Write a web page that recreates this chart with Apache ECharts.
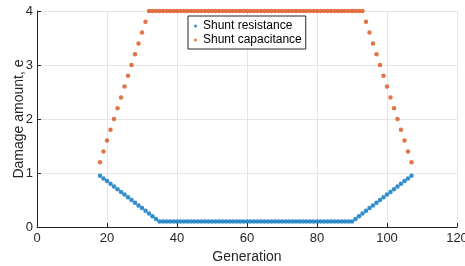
<!DOCTYPE html>
<html>
<head>
<meta charset="utf-8">
<script src="https://cdn.jsdelivr.net/npm/echarts@6/dist/echarts.min.js"></script>
<style>
  html, body { margin: 0; padding: 0; background: #fff; }
  #chart { width: 465px; height: 266px; }
</style>
</head>
<body>
<div id="chart"></div>
<script>
// generation numbers (x)
const generations = [
  18, 19, 20, 21, 22, 23, 24, 25, 26, 27, 28, 29, 30, 31, 32, 33, 34, 35, 36, 37,
  38, 39, 40, 41, 42, 43, 44, 45, 46, 47, 48, 49, 50, 51, 52, 53, 54, 55, 56, 57,
  58, 59, 60, 61, 62, 63, 64, 65, 66, 67, 68, 69, 70, 71, 72, 73, 74, 75, 76, 77,
  78, 79, 80, 81, 82, 83, 84, 85, 86, 87, 88, 89, 90, 91, 92, 93, 94, 95, 96, 97,
  98, 99, 100, 101, 102, 103, 104, 105, 106, 107
]
// damage amount for shunt resistance
const resistance = [
  0.95, 0.90, 0.85, 0.80, 0.75, 0.70, 0.65, 0.60, 0.55, 0.50, 0.45, 0.40, 0.35, 0.30, 0.25, 0.20, 0.15, 0.10, 0.10, 0.10,
  0.10, 0.10, 0.10, 0.10, 0.10, 0.10, 0.10, 0.10, 0.10, 0.10, 0.10, 0.10, 0.10, 0.10, 0.10, 0.10, 0.10, 0.10, 0.10, 0.10,
  0.10, 0.10, 0.10, 0.10, 0.10, 0.10, 0.10, 0.10, 0.10, 0.10, 0.10, 0.10, 0.10, 0.10, 0.10, 0.10, 0.10, 0.10, 0.10, 0.10,
  0.10, 0.10, 0.10, 0.10, 0.10, 0.10, 0.10, 0.10, 0.10, 0.10, 0.10, 0.10, 0.10, 0.15, 0.20, 0.25, 0.30, 0.35, 0.40, 0.45,
  0.50, 0.55, 0.60, 0.65, 0.70, 0.75, 0.80, 0.85, 0.90, 0.95
]
// damage amount for shunt capacitance
const capacitance = [
  1.2, 1.4, 1.6, 1.8, 2.0, 2.2, 2.4, 2.6, 2.8, 3.0, 3.2, 3.4, 3.6, 3.8, 4.0, 4.0, 4.0, 4.0, 4.0, 4.0,
  4.0, 4.0, 4.0, 4.0, 4.0, 4.0, 4.0, 4.0, 4.0, 4.0, 4.0, 4.0, 4.0, 4.0, 4.0, 4.0, 4.0, 4.0, 4.0, 4.0,
  4.0, 4.0, 4.0, 4.0, 4.0, 4.0, 4.0, 4.0, 4.0, 4.0, 4.0, 4.0, 4.0, 4.0, 4.0, 4.0, 4.0, 4.0, 4.0, 4.0,
  4.0, 4.0, 4.0, 4.0, 4.0, 4.0, 4.0, 4.0, 4.0, 4.0, 4.0, 4.0, 4.0, 4.0, 4.0, 4.0, 3.8, 3.6, 3.4, 3.2,
  3.0, 2.8, 2.6, 2.4, 2.2, 2.0, 1.8, 1.6, 1.4, 1.2
]
const seriesNames = ['Shunt resistance', 'Shunt capacitance']

const font = 'Liberation Sans, Arial, Helvetica, sans-serif'
const axisColor = '#262626'

const chart = echarts.init(document.getElementById('chart'))
chart.setOption({
  animation: false,
  textStyle: { fontFamily: font },
  grid: { left: 37, right: 8, top: 11, bottom: 39, outerBoundsMode: 'none', containLabel: false },
  legend: {
    data: seriesNames,
    orient: 'vertical',
    left: 188,
    top: 16,
    icon: 'circle',
    itemWidth: 3,
    itemHeight: 3,
    itemGap: 2,
    padding: [4, 4, 3, 6],
    borderColor: axisColor,
    borderWidth: 1,
    backgroundColor: '#fff',
    textStyle: { fontSize: 12, color: '#000', fontFamily: font, padding: [0, 0, 0, 1] }
  },
  xAxis: {
    type: 'value',
    min: 0,
    max: 120,
    interval: 20,
    name: 'Generation',
    nameLocation: 'middle',
    nameGap: 23,
    nameMoveOverlap: false,
    nameTextStyle: { fontSize: 14, color: axisColor },
    axisLine: { onZero: false, lineStyle: { color: axisColor, width: 1 } },
    axisTick: { inside: true, length: 4, lineStyle: { color: axisColor } },
    axisLabel: { fontSize: 13, color: axisColor, margin: 5 },
    splitLine: { show: true, lineStyle: { color: '#e5e5e5' } }
  },
  yAxis: {
    type: 'value',
    min: 0,
    max: 4,
    interval: 1,
    name: 'Damage amount, e',
    nameLocation: 'middle',
    nameGap: 11,
    nameMoveOverlap: false,
    nameTextStyle: { fontSize: 14, color: axisColor },
    axisLine: { show: true, onZero: false, lineStyle: { color: axisColor, width: 1 } },
    axisTick: { show: true, inside: true, length: 4, lineStyle: { color: axisColor } },
    axisLabel: { fontSize: 13, color: axisColor, margin: 4 },
    splitLine: { show: true, lineStyle: { color: '#e5e5e5' } }
  },
  series: [
    {
      name: seriesNames[0],
      type: 'scatter',
      symbol: 'circle',
      symbolSize: 4.5,
      itemStyle: { color: '#0072BD' },
      data: generations.map((g, i) => [g, resistance[i]])
    },
    {
      name: seriesNames[1],
      type: 'scatter',
      symbol: 'circle',
      symbolSize: 4.5,
      itemStyle: { color: '#D95319' },
      data: generations.map((g, i) => [g, capacitance[i]])
    }
  ]
})
</script>
</body>
</html>
